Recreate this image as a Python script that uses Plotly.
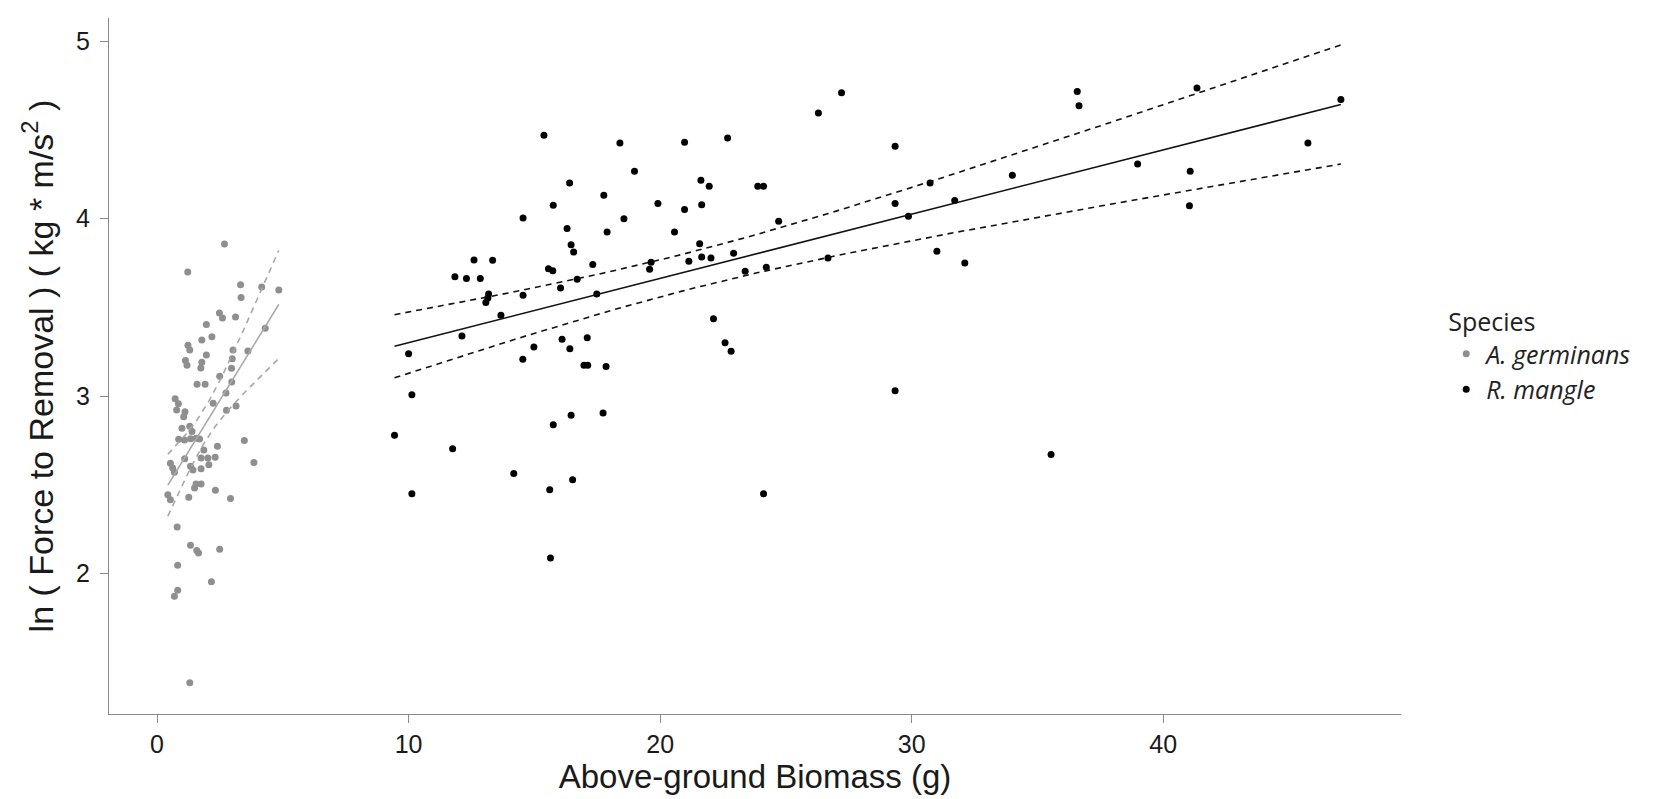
import numpy as np
import plotly.graph_objects as go

species = ["A. germinans", "R. mangle"]

# A. germinans (grey)
ag_biomass = [2.68, 1.22, 3.32, 4.16, 4.84, 3.34, 2.48, 2.60, 3.12, 1.96, 4.30, 2.18, 1.78, 1.23,
              1.30, 1.96, 3.02, 3.61, 2.99, 1.13, 1.19, 1.78, 1.74, 2.96, 2.49, 2.97, 1.59, 1.91,
              2.74, 0.72, 0.85, 2.23, 0.78, 3.14, 2.76, 1.11, 1.06, 0.99, 1.30, 1.39, 0.86, 1.09,
              1.33, 1.55, 1.69, 3.47, 1.86, 2.40, 1.10, 1.75, 2.02, 2.31, 0.53, 0.62, 0.69, 1.33,
              1.75, 2.06, 3.85, 1.43, 1.55, 1.75,
              1.49, 2.32, 2.92, 0.43, 0.53, 1.26, 0.80, 1.33, 1.65, 1.58, 2.49, 0.82, 2.16, 0.82,
              0.69, 1.30]
ag_force = [3.857, 3.70, 3.628, 3.615, 3.598, 3.555, 3.468, 3.44, 3.446, 3.403, 3.382, 3.335, 3.316,
            3.286, 3.259, 3.232, 3.259, 3.254, 3.211, 3.20, 3.174, 3.19, 3.158, 3.157, 3.112, 3.08,
            3.067, 3.067, 3.017, 2.985, 2.957, 2.959, 2.922, 2.944, 2.92, 2.912, 2.884, 2.818, 2.83,
            2.80, 2.756, 2.752, 2.76, 2.762, 2.758, 2.749, 2.696, 2.717, 2.647, 2.651, 2.651, 2.655,
            2.621, 2.595, 2.57, 2.604, 2.591, 2.613, 2.625, 2.583, 2.504, 2.504,
            2.482, 2.469, 2.422, 2.444, 2.416, 2.43, 2.262, 2.159, 2.116, 2.129, 2.137, 2.046, 1.954,
            1.905, 1.871, 1.384]

# R. mangle (black)
rm_biomass = [15.38, 18.40, 20.97, 22.68, 18.98, 16.40, 21.62, 21.95, 23.88, 24.11, 17.76, 15.75,
              19.91, 20.97, 21.65, 14.55, 18.56, 16.30, 17.89, 20.57, 24.71, 16.46, 16.56, 21.57,
              21.65, 22.02, 21.14, 22.92, 12.60, 13.34, 11.84, 12.30, 12.85, 15.56, 15.73, 17.32,
              19.64, 19.58, 16.70, 16.04, 13.18, 13.15, 13.07, 14.55, 17.48, 23.38, 24.22, 13.67,
              12.12, 10.0, 22.12, 16.10, 17.10, 14.98, 16.41, 22.58, 22.82, 14.54, 16.97, 17.12,
              17.85, 10.13,
              9.44, 16.46, 15.75, 17.73, 11.75, 14.18, 16.52, 15.61, 10.13, 24.11, 15.64,
              27.21, 26.29, 36.58, 36.65, 41.34, 47.06, 29.34, 45.75, 41.07, 41.04, 38.98, 34.0,
              30.73, 29.34, 31.71, 29.87, 26.67, 31.0, 32.11, 29.34, 35.54]
rm_force = [4.47, 4.427, 4.431, 4.455, 4.267, 4.201, 4.216, 4.183, 4.183, 4.183, 4.132, 4.076,
            4.085, 4.051, 4.079, 4.004, 4.0, 3.944, 3.925, 3.925, 3.985, 3.853, 3.812, 3.859,
            3.784, 3.778, 3.76, 3.805, 3.767, 3.766, 3.672, 3.662, 3.662, 3.717, 3.707, 3.741,
            3.754, 3.715, 3.658, 3.609, 3.576, 3.553, 3.527, 3.568, 3.576, 3.703, 3.726, 3.455,
            3.339, 3.239, 3.436, 3.32, 3.329, 3.277, 3.267, 3.301, 3.253, 3.207, 3.174, 3.174,
            3.166, 3.008,
            2.779, 2.892, 2.839, 2.905, 2.703, 2.563, 2.529, 2.472, 2.45, 2.45, 2.087,
            4.709, 4.596, 4.717, 4.637, 4.737, 4.671, 4.408, 4.427, 4.267, 4.073, 4.308, 4.245,
            4.201, 4.085, 4.102, 4.014, 3.778, 3.816, 3.750, 3.030, 2.670]

x_ticks = [0, 10, 20, 30, 40]
y_ticks = [2, 3, 4, 5]


def t975(df):
    z = 1.959963985
    return (z + (z**3 + z) / (4 * df) + (5 * z**5 + 16 * z**3 + 3 * z) / (96 * df**2)
            + (3 * z**7 + 19 * z**5 + 17 * z**3 - 15 * z) / (384 * df**3))


def lm_fit(x, y, n=80):
    x = np.asarray(x, float)
    y = np.asarray(y, float)
    slope, inter = np.polyfit(x, y, 1)
    resid = y - (inter + slope * x)
    df = len(x) - 2
    s = np.sqrt(np.sum(resid**2) / df)
    xm = x.mean()
    sxx = np.sum((x - xm) ** 2)
    xs = np.linspace(x.min(), x.max(), n)
    fit = inter + slope * xs
    se = s * np.sqrt(1.0 / len(x) + (xs - xm) ** 2 / sxx)
    t = t975(df)
    return xs, fit, fit - t * se, fit + t * se


GREY_PT = "#8f8f8f"
GREY_LN = "#a8a8a8"
BLACK = "#000000"

fig = go.Figure()

groups = [
    (species[0], ag_biomass, ag_force, GREY_PT, GREY_LN),
    (species[1], rm_biomass, rm_force, BLACK, "#111111"),
]

for name, xs_, ys_, cpt, cln in groups:
    fig.add_trace(go.Scatter(
        x=xs_, y=ys_, mode="markers", name="<i>" + name + "</i>",
        marker=dict(color=cpt, size=7, line=dict(width=0)),
        showlegend=True,
    ))
    xs, fit, lo, hi = lm_fit(xs_, ys_)
    fig.add_trace(go.Scatter(x=xs, y=fit, mode="lines", line=dict(color=cln, width=1.6),
                             showlegend=False, hoverinfo="skip"))
    for band in (lo, hi):
        fig.add_trace(go.Scatter(x=xs, y=band, mode="lines",
                                 line=dict(color=cln, width=1.6, dash="6px,5px"),
                                 showlegend=False, hoverinfo="skip"))

FONT = "Liberation Sans, Arial, sans-serif"
axis_common = dict(
    showline=True, linecolor="#8a8a8a", linewidth=1.3,
    ticks="outside", ticklen=8, tickwidth=1.2, tickcolor="#8a8a8a",
    showgrid=False, zeroline=False, mirror=False,
    tickfont=dict(family=FONT, size=25, color="#1a1a1a"),
)

fig.update_layout(
    width=1657, height=799,
    paper_bgcolor="white", plot_bgcolor="white",
    margin=dict(l=101, r=264, t=10, b=93),
    xaxis=dict(
        range=[-1.91, 49.45], tickvals=x_ticks,
        title=dict(text="Above-ground Biomass (g)", standoff=6,
                   font=dict(family=FONT, size=33, color="#1a1a1a")),
        **axis_common,
    ),
    yaxis=dict(
        range=[1.208, 5.131], tickvals=y_ticks, ticklabelstandoff=5,
        title=dict(text="ln ( Force to Removal ) ( kg * m/s<sup>2</sup> )", standoff=12,
                   font=dict(family=FONT, size=34, color="#1a1a1a")),
        **axis_common,
    ),
    legend=dict(
        title=dict(text="Species", font=dict(family="Open Sans, Noto Sans, sans-serif", size=25, color="#222")),
        font=dict(family="Open Sans, Noto Sans, sans-serif", size=25, color="#222"),
        x=1.035, xanchor="left", y=0.515, yanchor="middle",
        bgcolor="rgba(0,0,0,0)", tracegroupgap=0, itemwidth=30,
    ),
)

fig.write_html("out.html")
